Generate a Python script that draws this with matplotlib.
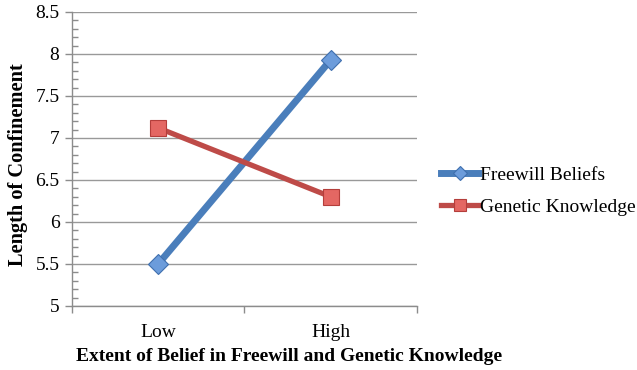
import matplotlib.pyplot as plt
from matplotlib.ticker import MultipleLocator, FixedLocator, NullFormatter

plt.rcParams["font.family"] = ["Liberation Serif", "DejaVu Serif"]

categories = ["Low", "High"]
freewill = [5.5, 7.93]
genetic = [7.12, 6.30]
y_ticks = [5, 5.5, 6, 6.5, 7, 7.5, 8, 8.5]

fig = plt.figure(figsize=(6.37, 3.70), dpi=100)
ax = fig.add_axes([0.113, 0.173, 0.5416, 0.7946])

x = list(range(len(categories)))

ax.plot(
    x,
    freewill,
    color="#4A7EBB",
    linewidth=5,
    marker="D",
    markersize=10,
    markerfacecolor="#6C9CDB",
    markeredgecolor="#3F6FAE",
    markeredgewidth=0.8,
    label="Freewill Beliefs",
    zorder=3,
)
ax.plot(
    x,
    genetic,
    color="#BE4B48",
    linewidth=3.8,
    marker="s",
    markersize=12,
    markerfacecolor="#E46763",
    markeredgecolor="#B43E3B",
    markeredgewidth=0.8,
    label="Genetic Knowledge",
    zorder=4,
)

ax.set_xlim(-0.5, len(categories) - 0.5)
ax.set_ylim(5, 8.5)

# y axis: major ticks outward, minor ticks inward
ax.set_yticks(y_ticks)
ax.set_yticklabels([f"{t:g}" for t in y_ticks])
ax.yaxis.set_minor_locator(MultipleLocator(0.1))
ax.tick_params(axis="y", which="major", direction="out", length=5,
               width=1, color="#8C8C8C", labelsize=14, pad=4)
ax.tick_params(axis="y", which="minor", direction="in", length=4,
               width=1, color="#8C8C8C")

# x axis: boundary ticks between categories, labels centred
ax.xaxis.set_major_locator(FixedLocator([-0.5, 0.5, 1.5]))
ax.xaxis.set_major_formatter(NullFormatter())
ax.xaxis.set_minor_locator(FixedLocator(x))
ax.set_xticklabels(categories, minor=True)
ax.tick_params(axis="x", which="major", direction="out", length=5,
               width=1, color="#8C8C8C")
ax.tick_params(axis="x", which="minor", length=0, labelsize=14, pad=13)

ax.grid(axis="y", which="major", color="#999999", linewidth=1)
ax.set_axisbelow(True)

for side in ["top", "right"]:
    ax.spines[side].set_visible(False)
for side in ["left", "bottom"]:
    ax.spines[side].set_color("#8C8C8C")
    ax.spines[side].set_linewidth(1)

ax.set_xlabel("Extent of Belief in Freewill and Genetic Knowledge",
              fontsize=14, fontweight="bold")
ax.xaxis.set_label_coords(0.629, -0.143)
ax.set_ylabel("Length of Confinement", fontsize=14.7, fontweight="bold")
ax.yaxis.set_label_coords(-0.128, 0.48)

fig.legend(
    loc="center left",
    bbox_to_anchor=(0.693, 0.484),
    frameon=False,
    borderpad=0,
    borderaxespad=0,
    fontsize=14,
    handlelength=1.9,
    handletextpad=0.1,
    labelspacing=0.75,
    markerscale=0.75,
)

fig.savefig("out.png", dpi=100)
